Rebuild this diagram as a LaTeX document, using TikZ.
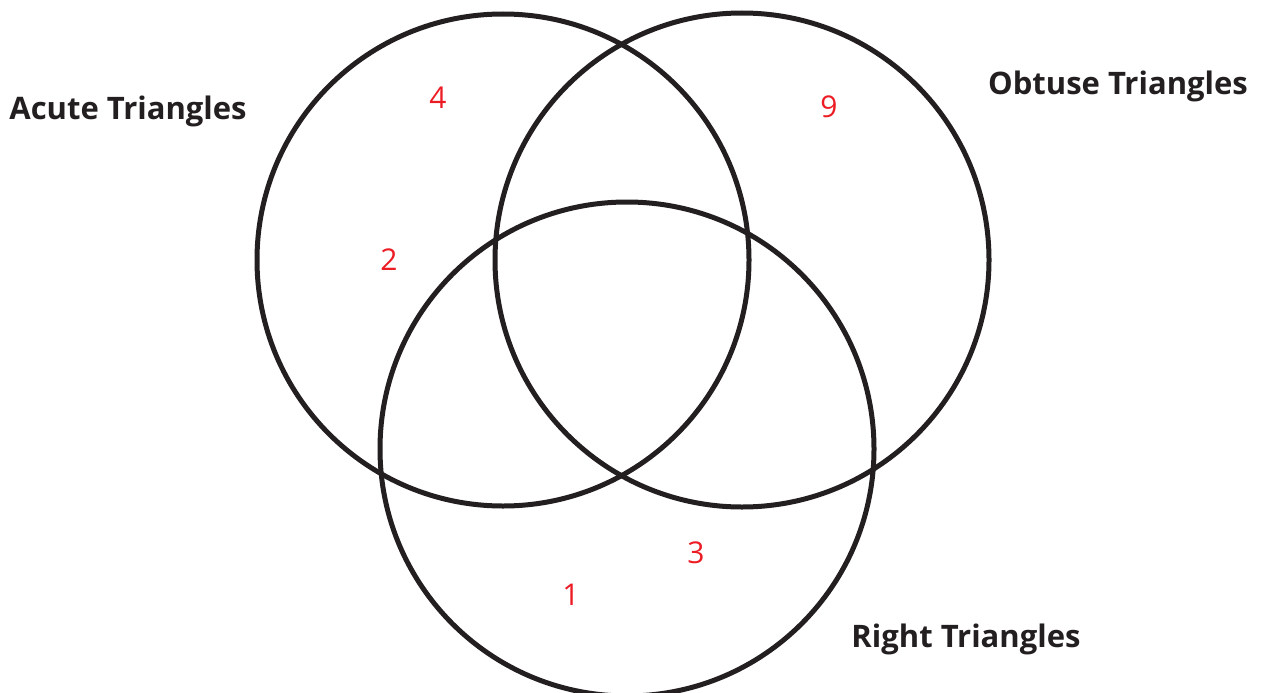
\documentclass[tikz,border=0pt]{standalone}
\usepackage{fontspec}
\setmainfont{Open Sans}
\definecolor{ink}{HTML}{231F20}
\definecolor{numred}{HTML}{EC1C24}
\begin{document}
\begin{tikzpicture}[x=1pt,y=-1pt,
  setcircle/.style={draw=ink,line width=5pt},
  setlabel/.style={text=ink,font=\fontsize{31}{36}\selectfont\bfseries,inner sep=0pt,anchor=base},
  count/.style={text=numred,font=\fontsize{30}{36}\selectfont,inner sep=0pt,anchor=base}]
\useasboundingbox (0,0) rectangle (1261,693);
\draw[setcircle] (503,260) circle (246);
\draw[setcircle] (742,260) circle (247);
\draw[setcircle] (627,449) circle (247);
\node[setlabel] (acute) at (128,119) {Acute Triangles};
\node[setlabel] (obtuse) at (1118,95) {Obtuse Triangles};
\node[setlabel] (right) at (966,647) {Right Triangles};
\node[count] (n4) at (438,108) {4};
\node[count] (n9) at (829,117) {9};
\node[count] (n2) at (389,270) {2};
\node[count] (n3) at (696,563) {3};
\node[count] (n1) at (571,605) {1};
\end{tikzpicture}
\end{document}
